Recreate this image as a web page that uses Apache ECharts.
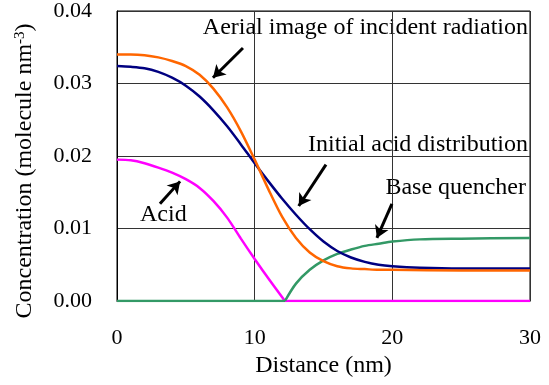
<!DOCTYPE html>
<html>
<head>
<meta charset="utf-8">
<script src="https://cdn.jsdelivr.net/npm/echarts@6/dist/echarts.min.js"></script>
<style>
  html, body { margin: 0; padding: 0; background: #fff; }
  #main { width: 549px; height: 385px; }
</style>
</head>
<body>
<div id="main"></div>
<script>
// distances (nm) and concentrations
var aerialX = [0, 1, 2, 3, 4, 5, 6, 7, 8, 9, 10, 11, 12, 13, 14, 15, 16, 17, 18, 19, 20, 25, 30];
var aerialY = [0.0340, 0.0340, 0.0339, 0.0336, 0.0331, 0.0324, 0.0312, 0.0293, 0.0267, 0.0234, 0.0195, 0.0154, 0.0116, 0.0087, 0.0067, 0.0055, 0.0048, 0.0045, 0.0044, 0.0043, 0.0043, 0.0042, 0.0042];

var initX = [0, 1, 2, 3, 4, 5, 6, 7, 8, 9, 10, 11, 12, 13, 14, 15, 16, 17, 18, 19, 20, 22, 25, 30];
var initY = [0.0324, 0.0323, 0.0321, 0.0316, 0.0308, 0.0297, 0.0282, 0.0263, 0.0241, 0.0216, 0.0190, 0.0165, 0.0141, 0.0119, 0.0099, 0.0082, 0.0069, 0.0060, 0.0054, 0.0050, 0.0048, 0.0046, 0.0045, 0.0045];

// acid is used up at ~12.2 nm and stays at zero after that
var acidX = [0, 1, 2, 3, 4, 5, 6, 7, 8, 9, 10, 11, 12.2];
var acidY = [0.0195, 0.0194, 0.0190, 0.0184, 0.0177, 0.0168, 0.0156, 0.0138, 0.0115, 0.0086, 0.0058, 0.0031, 0];
var acidZeroX = [12.2, 30];
var acidZeroY = [0, 0];

// base quencher is zero up to ~12.2 nm, then rises
var baseZeroX = [0, 12.2];
var baseZeroY = [0, 0];
var baseX = [12.2, 13, 14, 15, 16, 17, 18, 19, 20, 22, 25, 30];
var baseY = [0, 0.0024, 0.0043, 0.0056, 0.0065, 0.0071, 0.0076, 0.0079, 0.0082, 0.0085, 0.0086, 0.0087];

var xTicks = [0, 10, 20, 30];
var yTicks = [0, 0.01, 0.02, 0.03, 0.04];

function pairs(xs, ys) {
    var out = [];
    for (var i = 0; i < xs.length; i++) out.push([xs[i], ys[i]]);
    return out;
}

var serif = '"Liberation Serif", "Times New Roman", serif';
var chart = echarts.init(document.getElementById('main'));

// arrows pointing at the curves (data coords)
var arrows = [
    [[9.15, 0.0349], [6.97, 0.0308]],
    [[15.18, 0.0188], [13.2, 0.0131]],
    [[19.97, 0.0134], [18.88, 0.0087]],
    [[3.12, 0.0134], [4.58, 0.0165]]
];

function curve(name, xs, ys, color, z, smooth) {
    return {
        name: name, type: 'line', showSymbol: false, smooth: smooth,
        data: pairs(xs, ys),
        lineStyle: { color: color, width: 2.5 }, z: z
    };
}

var aerial = curve('Aerial image of incident radiation', aerialX, aerialY, '#FF6600', 6, 0.3);
aerial.markLine = {
    silent: true,
    symbol: ['none', 'arrow'],
    symbolSize: [11, 12],
    label: { show: false },
    lineStyle: { color: '#000', width: 3, type: 'solid' },
    data: arrows.map(function (a) {
        return [{ coord: a[0] }, { coord: a[1] }];
    })
};

var option = {
    backgroundColor: '#fff',
    animation: false,
    grid: {
        left: 117, right: 19, top: 8, bottom: 84,
        show: true, borderColor: '#000', borderWidth: 1
    },
    xAxis: {
        type: 'value',
        min: 0, max: 30, interval: 10,
        name: 'Distance (nm)',
        nameLocation: 'middle',
        nameGap: 50,
        nameTextStyle: { fontFamily: serif, fontSize: 24, color: '#000' },
        axisLine: { lineStyle: { color: '#000', width: 1 } },
        axisTick: { show: false },
        axisLabel: {
            fontFamily: serif, fontSize: 22, color: '#000', margin: 26,
            formatter: function (v) { return xTicks.indexOf(v) >= 0 ? String(v) : ''; }
        },
        splitLine: { show: true, lineStyle: { color: '#333', width: 1 } }
    },
    yAxis: {
        type: 'value',
        min: 0, max: 0.04, interval: 0.01,
        name: 'Concentration (molecule nm{sup|-3})',
        nameLocation: 'middle',
        nameGap: 80,
        nameTextStyle: {
            fontFamily: serif, fontSize: 24, color: '#000',
            padding: [0, 30, 0, 0],
            rich: { sup: { fontFamily: serif, fontSize: 15, color: '#000', verticalAlign: 'top' } }
        },
        axisLine: { show: true, lineStyle: { color: '#000', width: 1 } },
        axisTick: { show: false },
        axisLabel: {
            fontFamily: serif, fontSize: 22, color: '#000', margin: 25,
            formatter: function (v) { return v.toFixed(2); }
        },
        splitLine: { show: true, lineStyle: { color: '#333', width: 1 } }
    },
    series: [
        curve('Acid', acidX, acidY, '#FF00FF', 2, 0.3),
        curve('Acid ', acidZeroX, acidZeroY, '#FF00FF', 2, false),
        curve('Base quencher', baseX, baseY, '#339966', 3, 0.3),
        curve('Base quencher ', baseZeroX, baseZeroY, '#339966', 3, false),
        curve('Initial acid distribution', initX, initY, '#000080', 4, 0.3),
        aerial
    ],
    graphic: [
        { type: 'text', right: 21, top: 16, style: { text: 'Aerial image of incident radiation', font: '24px ' + serif, fill: '#000' } },
        { type: 'text', right: 21, top: 133, style: { text: 'Initial acid distribution', font: '24px ' + serif, fill: '#000' } },
        { type: 'text', right: 23, top: 176, style: { text: 'Base quencher', font: '24px ' + serif, fill: '#000' } },
        { type: 'text', left: 140, top: 203, style: { text: 'Acid', font: '24px ' + serif, fill: '#000' } }
    ]
};

chart.setOption(option);
</script>
</body>
</html>
